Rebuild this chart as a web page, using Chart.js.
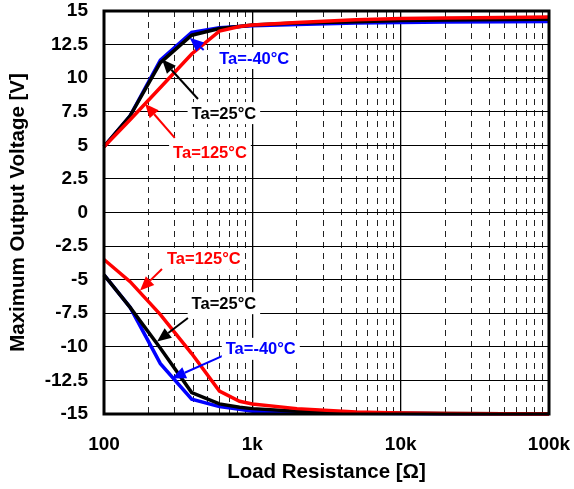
<!DOCTYPE html>
<html lang="en">
<head>
  <meta charset="UTF-8" />
  <title>Maximum Output Voltage vs Load Resistance</title>
  <style>
    body { margin: 0; background: #fff; }
    #wrap { width: 574px; height: 489px; position: relative; }
  </style>
  <script src="https://cdn.jsdelivr.net/npm/chart.js"></script>
</head>
<body>
  <div id="wrap"><canvas id="voutChart"></canvas></div>

  <script>
    // load resistance in ohms
    const resistance = [100, 150, 240, 390, 600, 820, 1000, 2000, 5000, 10000, 20000, 50000, 100000];

    // positive swing [V]
    const posM40 = [4.9, 7.2, 11.35, 13.4, 13.75, 13.85, 13.9, 14.0, 14.1, 14.15, 14.18, 14.2, 14.22];
    const pos25 = [4.9, 7.2, 11.15, 13.2, 13.7, 13.85, 13.95, 14.1, 14.2, 14.3, 14.33, 14.36, 14.38];
    const pos125 = [4.9, 6.9, 9.3, 11.8, 13.5, 13.85, 13.95, 14.15, 14.35, 14.45, 14.48, 14.52, 14.55];

    // negative swing [V]
    const negM40 = [-4.65, -7.06, -11.25, -13.9, -14.45, -14.65, -14.8, -14.9, -14.95, -14.97, -14.98, -14.99, -15.0];
    const neg25 = [-4.65, -7.06, -10.1, -13.4, -14.25, -14.5, -14.6, -14.8, -14.9, -14.95, -14.97, -14.98, -14.99];
    const neg125 = [-3.5, -5.15, -7.6, -10.5, -13.3, -14.05, -14.25, -14.6, -14.85, -14.93, -14.96, -14.98, -15.0];

    const xDecades = [100, 1000, 10000, 100000];
    const yTicks = [15, 12.5, 10, 7.5, 5, 2.5, 0, -2.5, -5, -7.5, -10, -12.5, -15];

    const RED = '#ff0000', BLACK = '#000000', BLUE = '#0000ff';
    const FONT = "'Liberation Sans', Arial, sans-serif";

    const pts = arr => resistance.map((r, i) => ({ x: r, y: arr[i] }));
    const line = (data, color, order) => ({
      data: pts(data), borderColor: color, borderWidth: 3.5,
      pointRadius: 0, tension: 0, fill: false, order: order, clip: 4
    });

    // drop the extra room chart.js keeps for overhanging tick labels
    const noPad = s => { s.paddingTop = 0; s.paddingBottom = 0; s.paddingLeft = 0; s.paddingRight = 0; };

    // callout labels with arrows, placed in data coordinates
    const callouts = [
      { text: 'Ta=-40°C', color: BLUE, at: [1030, 11.5], tail: [470, 12.1], head: [378, 13.0] },
      { text: 'Ta=25°C', color: BLACK, at: [643, 7.4], tail: [430, 8.45], head: [246, 11.4] },
      { text: 'Ta=125°C', color: RED, at: [518, 4.45], tail: [300, 5.55], head: [189, 8.1] },
      { text: 'Ta=125°C', color: RED, at: [471, -3.45], tail: [246, -4.2], head: [175, -5.8] },
      { text: 'Ta=25°C', color: BLACK, at: [643, -6.75], tail: [368, -7.85], head: [228, -9.6] },
      { text: 'Ta=-40°C', color: BLUE, at: [1140, -10.15], tail: [653, -10.6], head: [287, -12.35] }
    ];

    const framePlugin = {
      id: 'frame',
      afterDatasetsDraw(chart) {
        const { ctx, chartArea: a, scales } = chart;
        ctx.save();
        // arrows and boxed labels
        ctx.font = 'bold 16.5px ' + FONT;
        ctx.textAlign = 'center';
        ctx.textBaseline = 'middle';
        callouts.forEach(c => {
          const tx = scales.x.getPixelForValue(c.tail[0]), ty = scales.y.getPixelForValue(c.tail[1]);
          const hx = scales.x.getPixelForValue(c.head[0]), hy = scales.y.getPixelForValue(c.head[1]);
          const ang = Math.atan2(hy - ty, hx - tx);
          const hl = 14, hw = 6;
          const bx = hx - hl * Math.cos(ang), by = hy - hl * Math.sin(ang);
          ctx.strokeStyle = c.color;
          ctx.fillStyle = c.color;
          ctx.lineWidth = 2;
          ctx.beginPath();
          ctx.moveTo(tx, ty);
          ctx.lineTo(bx, by);
          ctx.stroke();
          ctx.beginPath();
          ctx.moveTo(hx, hy);
          ctx.lineTo(bx + hw * Math.sin(ang), by - hw * Math.cos(ang));
          ctx.lineTo(bx - hw * Math.sin(ang), by + hw * Math.cos(ang));
          ctx.closePath();
          ctx.fill();

          const lx = scales.x.getPixelForValue(c.at[0]), ly = scales.y.getPixelForValue(c.at[1]);
          const w = ctx.measureText(c.text).width;
          ctx.fillStyle = '#fff';
          ctx.fillRect(lx - w / 2 - 4, ly - 11, w + 8, 22);
          ctx.fillStyle = c.color;
          ctx.fillText(c.text, lx, ly + 1);
        });
        // plot frame
        ctx.strokeStyle = '#000';
        ctx.lineWidth = 3;
        ctx.strokeRect(a.left, a.top, a.right - a.left, a.bottom - a.top);
        ctx.restore();
      }
    };

    new Chart(document.getElementById('voutChart'), {
      type: 'line',
      data: {
        datasets: [
          line(pos125, RED, 1), line(pos25, BLACK, 2), line(posM40, BLUE, 3),
          line(neg125, RED, 1), line(neg25, BLACK, 2), line(negM40, BLUE, 3)
        ]
      },
      options: {
        responsive: true,
        maintainAspectRatio: false,
        animation: false,
        layout: { padding: { top: 11, right: 25, left: 0, bottom: 0 } },
        plugins: { legend: { display: false }, tooltip: { enabled: false } },
        scales: {
          x: {
            type: 'logarithmic', min: 100, max: 100000, position: 'bottom',
            afterBuildTicks: s => { s.ticks = xDecades.map(v => ({ value: v })); },
            afterFit: s => { s.height = 75; noPad(s); },
            grid: { color: '#000', lineWidth: 1.3, drawTicks: false },
            border: { display: false },
            ticks: {
              color: '#000', padding: 19, maxRotation: 0, autoSkip: false,
              font: { family: FONT, size: 19, weight: 'bold' },
              callback: v => (v >= 1000 ? (v / 1000) + 'k' : String(v))
            },
            title: {
              display: true, text: 'Load Resistance [Ω]', color: '#000',
              font: { family: FONT, size: 20.5, weight: 'bold' }, padding: { top: 7 }
            }
          },
          xMinor: {
            type: 'logarithmic', min: 100, max: 100000, position: 'bottom',
            afterBuildTicks: s => {
              const t = [];
              xDecades.slice(0, 3).forEach(d => { for (let k = 2; k <= 9; k++) t.push({ value: k * d }); });
              s.ticks = t;
            },
            afterFit: s => { s.height = 0; noPad(s); },
            grid: { color: '#222', lineWidth: 1, drawTicks: false },
            border: { display: false, dash: [6, 5] },
            ticks: { display: false }
          },
          y: {
            type: 'linear', min: -15, max: 15,
            afterBuildTicks: s => { s.ticks = yTicks.map(v => ({ value: v })); },
            afterFit: s => { s.width = 104; noPad(s); },
            grid: { color: '#000', lineWidth: 1, drawTicks: false },
            border: { display: false },
            ticks: {
              color: '#000', padding: 16,
              font: { family: FONT, size: 19, weight: 'bold' },
              callback: v => String(v)
            },
            title: {
              display: true, text: 'Maximum Output Voltage [V]', color: '#000',
              font: { family: FONT, size: 20.5, weight: 'bold' }, padding: { top: 6, bottom: 0 }
            }
          }
        }
      },
      plugins: [framePlugin]
    });
  </script>
</body>
</html>
